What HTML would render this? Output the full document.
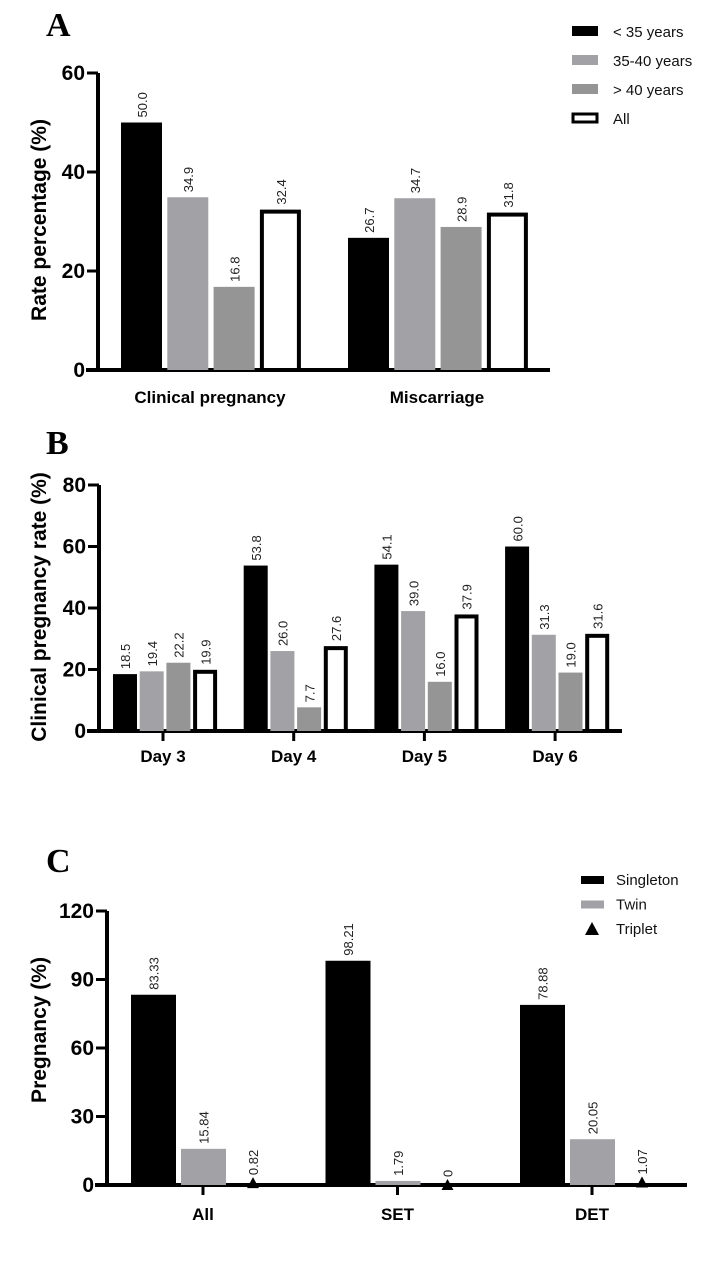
<!DOCTYPE html>
<html><head><meta charset="utf-8">
<style>
html,body{margin:0;padding:0;background:#fff;}
svg{display:block;font-family:"Liberation Sans",Arial,sans-serif;}
.tick{font-weight:bold;font-size:21px;fill:#000;}
.cat{font-weight:bold;font-size:17px;fill:#000;}
.val{font-size:13px;fill:#222;}
.ytitle{font-weight:bold;font-size:21px;fill:#000;}
.leg{font-size:15px;fill:#111;}
.panel{font-family:"Liberation Serif",serif;font-weight:bold;font-size:34px;fill:#000;}
</style></head>
<body>
<svg id="fig" width="720" height="1281" viewBox="0 0 720 1281" xmlns="http://www.w3.org/2000/svg">
<text class="panel" x="46" y="36">A</text>
<text class="panel" x="46" y="454">B</text>
<text class="panel" x="46" y="872">C</text>
</svg>
<script>
// Panel A data
const aCategories = ["Clinical pregnancy", "Miscarriage"];
const aLt35 = [50.0, 26.7];
const a3540 = [34.9, 34.7];
const aGt40 = [16.8, 28.9];
const aAll = [32.4, 31.8];
const aTicks = [0, 20, 40, 60];
// Panel B data
const bCategories = ["Day 3", "Day 4", "Day 5", "Day 6"];
const bLt35 = [18.5, 53.8, 54.1, 60.0];
const b3540 = [19.4, 26.0, 39.0, 31.3];
const bGt40 = [22.2, 7.7, 16.0, 19.0];
const bAll = [19.9, 27.6, 37.9, 31.6];
const bTicks = [0, 20, 40, 60, 80];
// Panel C data
const cCategories = ["All", "SET", "DET"];
const cSingleton = [83.33, 98.21, 78.88];
const cTwin = [15.84, 1.79, 20.05];
const cTriplet = [0.82, 0, 1.07];
const cSingletonLabels = ["83.33", "98.21", "78.88"];
const cTwinLabels = ["15.84", "1.79", "20.05"];
const cTripletLabels = ["0.82", "0", "1.07"];
const cTicks = [0, 30, 60, 90, 120];

const NS = "http://www.w3.org/2000/svg";
const svg = document.getElementById("fig");
function mk(tag, attrs, parent) {
  const e = document.createElementNS(NS, tag);
  for (const k in attrs) e.setAttribute(k, attrs[k]);
  (parent || svg).appendChild(e);
  return e;
}
function txt(content, attrs, parent) {
  const e = mk("text", attrs, parent);
  e.textContent = content;
  return e;
}

function axes(cfg) {
  let el = mk("line", {x1: cfg.ax, y1: cfg.y(cfg.ymax), x2: cfg.ax, y2: cfg.y0 + 2, stroke: "#000", "stroke-width": 4});
  
  
  el = mk("line", {x1: cfg.ax - 12, y1: cfg.y0, x2: cfg.xend, y2: cfg.y0, stroke: "#000", "stroke-width": 4});
  
  
  cfg.ticks.forEach(t => {
    const yy = cfg.y(t);
    let l = mk("line", {x1: cfg.ax - 11, y1: yy, x2: cfg.ax, y2: yy, stroke: "#000", "stroke-width": 3});
    
    
    let tt = txt(String(t), {class: "tick", x: cfg.ax - 13, y: yy + 7, "text-anchor": "end"});
    
    
  });
  let yt = txt(cfg.ytitle, {class: "ytitle", transform: "translate(" + cfg.ytx + "," + cfg.yty + ") rotate(-90)", "text-anchor": "middle"});
  
  
}

function bar(cfg, x, w, v, style, name, label, fs) {
  const top = cfg.y(v);
  let r;
  if (style === "outline") {
    r = mk("rect", {x: x + 2, y: top + 2, width: w - 4, height: cfg.y0 - top - 2, fill: "#fff", stroke: "#000", "stroke-width": 4});
  } else {
    r = mk("rect", {x: x, y: top, width: w, height: cfg.y0 - top, fill: style});
  }
  
  
  const lx = x + w / 2 + (fs ? fs / 2.6 : 5), ly = top - 5;
  let t = txt(label, {class: "val", transform: "translate(" + lx + "," + ly + ") rotate(-90)"});
  if (fs) t.setAttribute("font-size", fs);
  
  
}

// ---- Panel A ----
const A = {id: "panel-a", ax: 98, y0: 370, ymax: 60, xend: 550, ticks: aTicks,
  ytitle: "Rate percentage (%)", ytx: 46, yty: 220};
A.y = v => A.y0 - v * (370 - 73) / 60;
axes(A);
const aSeries = [[aLt35, "#000", "lt35"], [a3540, "#a2a2a6", "35-40"], [aGt40, "#959595", "gt40"], [aAll, "outline", "all"]];
aCategories.forEach((c, i) => {
  const gx = 121 + i * 227;
  aSeries.forEach((s, j) => {
    bar(A, gx + j * 46.3, 41, s[0][i], s[1], "bar-a-" + s[2] + "-" + i, s[0][i].toFixed(1), 14);
  });
  let t = txt(c, {class: "cat", x: gx + 89, y: 403, "text-anchor": "middle"});
  
  
});
const aLeg = [["< 35 years", "#000"], ["35-40 years", "#a2a2a6"], ["> 40 years", "#959595"], ["All", "outline"]];
aLeg.forEach((l, i) => {
  const yy = 31 + i * 29;
  let r;
  if (l[1] === "outline") r = mk("rect", {x: 573, y: yy - 4, width: 24, height: 8, fill: "#fff", stroke: "#000", "stroke-width": 3});
  else r = mk("rect", {x: 572, y: yy - 5, width: 26, height: 10, fill: l[1]});
  
  
  let t = txt(l[0], {class: "leg", x: 613, y: yy + 6});
  
  
});

// ---- Panel B ----
const B = {id: "panel-b", ax: 99, y0: 731, ymax: 80, xend: 622, ticks: bTicks,
  ytitle: "Clinical pregnancy rate (%)", ytx: 46, yty: 607};
B.y = v => B.y0 - v * (731 - 485) / 80;
axes(B);
const bSeries = [[bLt35, "#000", "lt35"], [b3540, "#a2a2a6", "35-40"], [bGt40, "#959595", "gt40"], [bAll, "outline", "all"]];
bCategories.forEach((c, i) => {
  const gx = 113 + i * 130.7;
  bSeries.forEach((s, j) => {
    bar(B, gx + j * 26.7, 24, s[0][i], s[1], "bar-b-" + s[2] + "-" + i, s[0][i].toFixed(1), 13.5);
  });
  const cx = gx + 50;
  let l = mk("line", {x1: cx, y1: B.y0, x2: cx, y2: B.y0 + 10, stroke: "#000", "stroke-width": 3});
  
  
  let t = txt(c, {class: "cat", x: cx, y: 762, "text-anchor": "middle"});
  
  
});

// ---- Panel C ----
const C = {id: "panel-c", ax: 107, y0: 1185, ymax: 120, xend: 687, ticks: cTicks,
  ytitle: "Pregnancy (%)", ytx: 46, yty: 1030};
C.y = v => C.y0 - v * (1185 - 911) / 120;
axes(C);
cCategories.forEach((c, i) => {
  const gx = 131 + i * 194.5;
  bar(C, gx, 45, cSingleton[i], "#000", "bar-c-singleton-" + i, cSingletonLabels[i]);
  bar(C, gx + 50, 45, cTwin[i], "#a2a2a6", "bar-c-twin-" + i, cTwinLabels[i]);
  const mx = gx + 122, my = C.y(cTriplet[i]);
  let p = mk("polygon", {points: (mx - 6) + "," + (my + 5) + " " + (mx + 6) + "," + (my + 5) + " " + mx + "," + (my - 6), fill: "#000"});
  
  
  let t0 = txt(cTripletLabels[i], {class: "val", transform: "translate(" + (mx + 5) + "," + (my - 8) + ") rotate(-90)"});
  
  
  const cx = gx + 72;
  let l = mk("line", {x1: cx, y1: C.y0, x2: cx, y2: C.y0 + 10, stroke: "#000", "stroke-width": 3});
  
  
  let t = txt(c, {class: "cat", x: cx, y: 1220, "text-anchor": "middle", "font-size": "20"});
  
  
});
const cLeg = [["Singleton", "#000"], ["Twin", "#a2a2a6"], ["Triplet", "tri"]];
cLeg.forEach((l, i) => {
  const yy = 880 + i * 24.5;
  let r;
  if (l[1] === "tri") r = mk("polygon", {points: "585," + (yy + 6) + " 599," + (yy + 6) + " 592," + (yy - 7), fill: "#000"});
  else r = mk("rect", {x: 581, y: yy - 4, width: 23, height: 8, fill: l[1]});
  
  
  let t = txt(l[0], {class: "leg", x: 616, y: yy + 5, "font-size": "13"});
  
  
});
</script>
</body></html>
